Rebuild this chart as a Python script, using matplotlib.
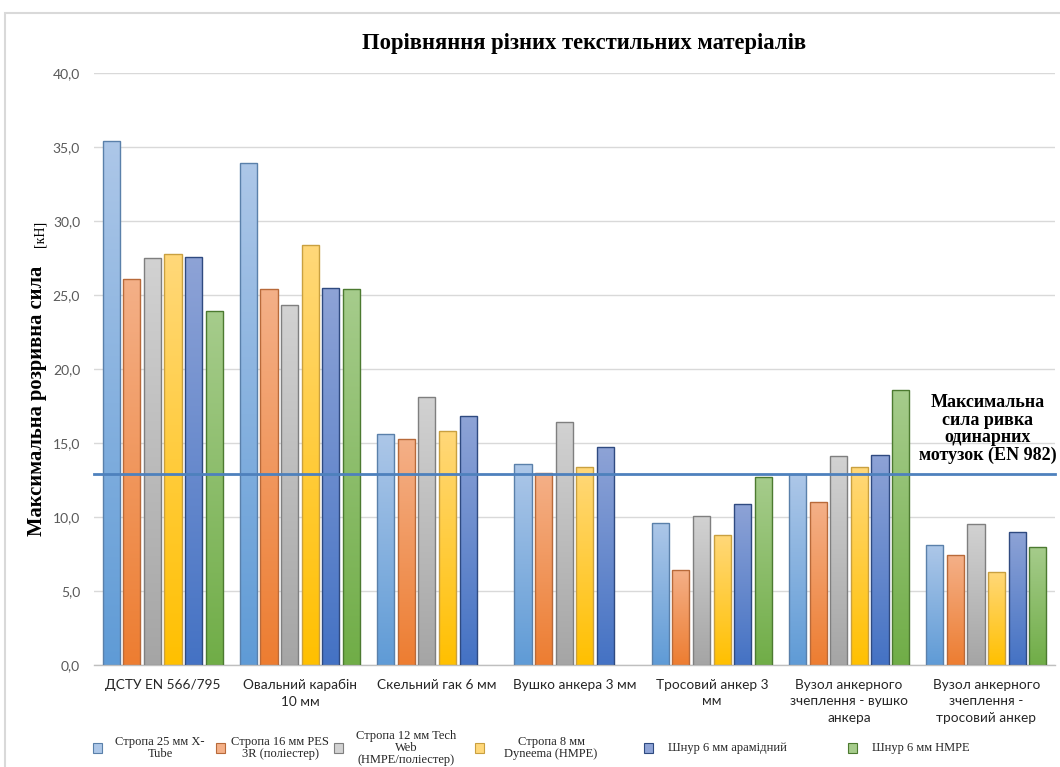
import numpy as np
import matplotlib
matplotlib.use("Agg")
import matplotlib.pyplot as plt
from matplotlib.colors import LinearSegmentedColormap
from matplotlib.patches import Rectangle

SANS = ["Lato", "DejaVu Sans"]
SERIF = ["Liberation Serif", "DejaVu Serif"]

# --- Data -------------------------------------------------------------------
categories = [
    "ДСТУ EN 566/795",
    "Овальний карабін\n10 мм",
    "Скельний гак 6 мм",
    "Вушко анкера 3 мм",
    "Тросовий анкер 3\nмм",
    "Вузол анкерного\nзчеплення - вушко\nанкера",
    "Вузол анкерного\nзчеплення -\nтросовий анкер",
]
series_names = [
    "Стропа 25 мм X-\nTube",
    "Стропа 16 мм PES\n3R (поліестер)",
    "Стропа 12 мм Tech\nWeb\n(HMPE/поліестер)",
    "Стропа 8 мм\nDyneema (HMPE)",
    "Шнур 6 мм арамідний",
    "Шнур 6 мм HMPE",
]
strop_25_xtube   = [35.4, 33.9, 15.6, 13.6, 9.6, 12.9, 8.1]
strop_16_pes     = [26.1, 25.4, 15.3, 13.0, 6.4, 11.0, 7.4]
strop_12_tech    = [27.5, 24.3, 18.1, 16.4, 10.1, 14.1, 9.5]
strop_8_dyneema  = [27.8, 28.4, 15.8, 13.4, 8.8, 13.4, 6.3]
cord_6_aramid    = [27.6, 25.5, 16.8, 14.7, 10.9, 14.2, 9.0]
cord_6_hmpe      = [23.9, 25.4, np.nan, np.nan, 12.7, 18.6, 8.0]
series_values = [strop_25_xtube, strop_16_pes, strop_12_tech,
                 strop_8_dyneema, cord_6_aramid, cord_6_hmpe]
rope_limit = 12.9   # EN 982 single rope impact force line
yticks = [0, 5, 10, 15, 20, 25, 30, 35, 40]

# --- Palette: (bottom colour, top colour, edge) -----------------------------
PALETTE = [
    ("#5f9bd6", "#adc7e8", "#5a80aa"),
    ("#ed7d31", "#f4b088", "#b86a3a"),
    ("#a5a5a5", "#d2d2d2", "#7f7f7f"),
    ("#ffc000", "#ffd87a", "#c9a040"),
    ("#4472c4", "#8ea3d6", "#2f4a80"),
    ("#70ad47", "#a6cc8c", "#4c7a30"),
]
LINE = "#4e81bd"
GRID = "#d9d9d9"

fig = plt.figure(figsize=(10.6, 7.67), dpi=100)
ax = fig.add_axes([94 / 1060, 1 - 665 / 767, (1055 - 94) / 1060, (665 - 73) / 767])

x = np.arange(len(categories))
step = 0.15
width = 0.125
grad = np.linspace(0, 1, 256).reshape(-1, 1)

for i, (vals, (base, light, edge)) in enumerate(zip(series_values, PALETTE)):
    xs = x + (i - 2.5) * step
    bars = ax.bar(xs, np.nan_to_num(vals), width, facecolor="none",
                  edgecolor=edge, linewidth=1.0, zorder=3)
    cmap = LinearSegmentedColormap.from_list(f"g{i}", [base, light])
    for bar, v in zip(bars, vals):
        if np.isnan(v):
            bar.set_visible(False)
            continue
        bx, by = bar.get_xy()
        im = ax.imshow(grad, cmap=cmap, origin="lower", aspect="auto",
                       extent=(bx, bx + bar.get_width(), by, by + bar.get_height()),
                       zorder=2)
        im.set_clip_path(bar)

ax.axhline(rope_limit, color=LINE, linewidth=2.0, zorder=4, clip_on=False)

ax.set_xlim(-0.5, len(categories) - 0.5)
ax.set_ylim(0, 40)
ax.set_yticks(yticks)
ax.set_yticklabels([f"{t:.1f}".replace(".", ",") for t in yticks],
                   family=SANS, fontsize=10, color="#595959")
ax.set_xticks(x)
ax.set_xticklabels(categories, family=SANS, fontsize=9.8, color="#262626",
                   linespacing=1.45)
ax.tick_params(axis="both", length=0)
ax.tick_params(axis="y", pad=10)
ax.tick_params(axis="x", pad=10)
ax.grid(axis="y", color=GRID, linewidth=1.0, zorder=0)
ax.set_axisbelow(True)
for side in ("top", "right", "left"):
    ax.spines[side].set_visible(False)
ax.spines["bottom"].set_color("#bfbfbf")
ax.spines["bottom"].set_linewidth(1.0)

# Title and axis label
fig.text(584 / 1060, 1 - 43 / 767, "Порівняння різних текстильних матеріалів",
         ha="center", va="center", fontsize=16.3, fontweight="bold", family=SERIF)
fig.text(37 / 1060, 1 - 401 / 767, "Максимальна розривна сила",
         rotation=90, ha="center", va="center", fontsize=14.8,
         fontweight="bold", family=SERIF)
fig.text(40 / 1060, 1 - 234 / 767, "[кН]", rotation=90, ha="center",
         va="center", fontsize=10, family=SERIF)

# Label for the EN 982 line
fig.text(988 / 1060, 1 - 429 / 767,
         "Максимальна\nсила ривка\nодинарних\nмотузок (EN 982)",
         ha="center", va="center", fontsize=13, fontweight="bold",
         family=SERIF, linespacing=1.05)

# Legend row along the bottom
marker_x = [97, 220, 338, 479, 648, 852]
label_x = [160, 280, 406, 551, 727, 921]
for name, (base, light, edge), mx, lx in zip(series_names, PALETTE, marker_x, label_x):
    fig.add_artist(Rectangle((mx / 1060 - 0.004, 1 - 753 / 767), 0.0085, 0.0125,
                             transform=fig.transFigure, facecolor=light,
                             edgecolor=edge, linewidth=0.8))
    fig.text(lx / 1060, 1 - 748 / 767, name, ha="center", va="center",
             fontsize=9.0, family=SERIF, linespacing=1.0, color="#262626")

# Light frame around the chart
fig.add_artist(Rectangle((5 / 1060, -0.1), 1.2, 1.1 - 13 / 767,
                         transform=fig.transFigure, fill=False,
                         edgecolor="#d9d9d9", linewidth=1.5))

fig.savefig("out.png", dpi=100, facecolor="white")
